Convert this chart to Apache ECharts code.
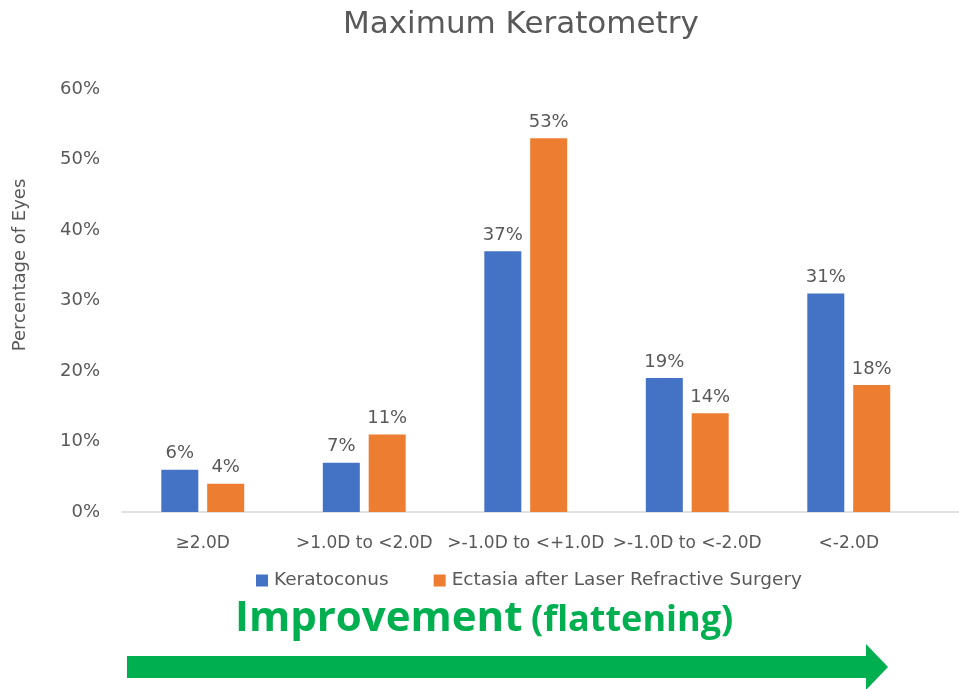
<!DOCTYPE html>
<html>
<head>
<meta charset="utf-8">
<title>Maximum Keratometry</title>
<script src="https://cdn.jsdelivr.net/npm/echarts@6/dist/echarts.min.js"></script>
<style>
  html, body { margin: 0; padding: 0; background: #ffffff; }
  #chart { width: 959px; height: 689px; }
</style>
</head>
<body>
<div id="chart"></div>
<script>
// Change in maximum keratometry, share of eyes per category
const categories = ['≥2.0D', '>1.0D to <2.0D', '>-1.0D to <+1.0D', '>-1.0D to <-2.0D', '<-2.0D'];
const keratoconus = [6, 7, 37, 19, 31];
const ectasia = [4, 11, 53, 14, 18];
const seriesNames = ['Keratoconus', 'Ectasia after Laser Refractive Surgery'];
const yTicks = [0, 10, 20, 30, 40, 50, 60];

const TEXT = '#595959';
const GREEN = '#00B050';
const BASE_FONT = 'DejaVu Sans';

const chart = echarts.init(document.getElementById('chart'), null, { renderer: 'canvas' });

const labelStyle = {
  show: true,
  position: 'top',
  distance: 7,
  color: TEXT,
  fontFamily: BASE_FONT,
  fontSize: 18,
  formatter: p => p.value + '%'
};

chart.setOption({
  animation: false,
  backgroundColor: '#ffffff',
  title: {
    text: 'Maximum Keratometry',
    left: 338,
    top: 4,
    textStyle: { color: TEXT, fontFamily: BASE_FONT, fontSize: 31, fontWeight: 'normal' }
  },
  legend: {
    data: seriesNames,
    left: 251,
    top: 566,
    icon: 'rect',
    itemWidth: 12,
    itemHeight: 12,
    itemGap: 45,
    textStyle: { color: TEXT, fontFamily: BASE_FONT, fontSize: 18.5, padding: [0, 0, 0, 1] }
  },
  grid: { left: 122, right: 29.5, top: 89, bottom: 177, containLabel: false },
  xAxis: {
    type: 'category',
    data: categories,
    axisLine: { show: true, lineStyle: { color: '#D9D9D9', width: 1.5 } },
    axisTick: { show: false },
    axisLabel: { color: TEXT, fontFamily: BASE_FONT, fontSize: 17, margin: 23, interval: 0 }
  },
  yAxis: {
    type: 'value',
    min: yTicks[0],
    max: yTicks[yTicks.length - 1],
    interval: yTicks[1] - yTicks[0],
    axisLine: { show: false },
    axisTick: { show: false },
    splitLine: { show: false },
    axisLabel: { color: TEXT, fontFamily: BASE_FONT, fontSize: 18, margin: 22, formatter: '{value}%' }
  },
  series: [
    {
      name: seriesNames[0],
      type: 'bar',
      data: keratoconus,
      barWidth: 37,
      barGap: '24%',
      itemStyle: { color: '#4472C4' },
      label: labelStyle
    },
    {
      name: seriesNames[1],
      type: 'bar',
      data: ectasia,
      barWidth: 37,
      barGap: '24%',
      itemStyle: { color: '#ED7D31' },
      label: labelStyle
    }
  ]
});

// Decorations: axis title, baseline extension, caption and direction arrow
const baseY = chart.convertToPixel({ yAxisIndex: 0 }, 0);
const axisEndX = chart.getWidth() - 29.5;

chart.setOption({
  graphic: [
    {
      type: 'text',
      x: 20, y: 265,
      rotation: Math.PI / 2,
      style: {
        text: 'Percentage of Eyes',
        fill: TEXT,
        font: '18px "DejaVu Sans"',
        align: 'center',
        verticalAlign: 'middle'
      }
    },
    {
      type: 'line',
      shape: { x1: axisEndX, y1: baseY, x2: chart.getWidth(), y2: baseY },
      style: { stroke: '#D9D9D9', lineWidth: 1.5 }
    },
    {
      type: 'text',
      x: 235, y: 619,
      style: {
        text: 'Improvement',
        fill: GREEN,
        font: 'bold 42px "Open Sans"',
        align: 'left',
        verticalAlign: 'middle'
      }
    },
    {
      type: 'text',
      x: 531, y: 621,
      style: {
        text: '(flattening)',
        fill: GREEN,
        font: 'bold 36px "Open Sans"',
        align: 'left',
        verticalAlign: 'middle'
      }
    },
    {
      type: 'polygon',
      shape: {
        points: [[127, 656], [866, 656], [866, 644], [888, 667], [866, 690], [866, 678], [127, 678]]
      },
      style: { fill: GREEN }
    }
  ]
});
</script>
</body>
</html>
